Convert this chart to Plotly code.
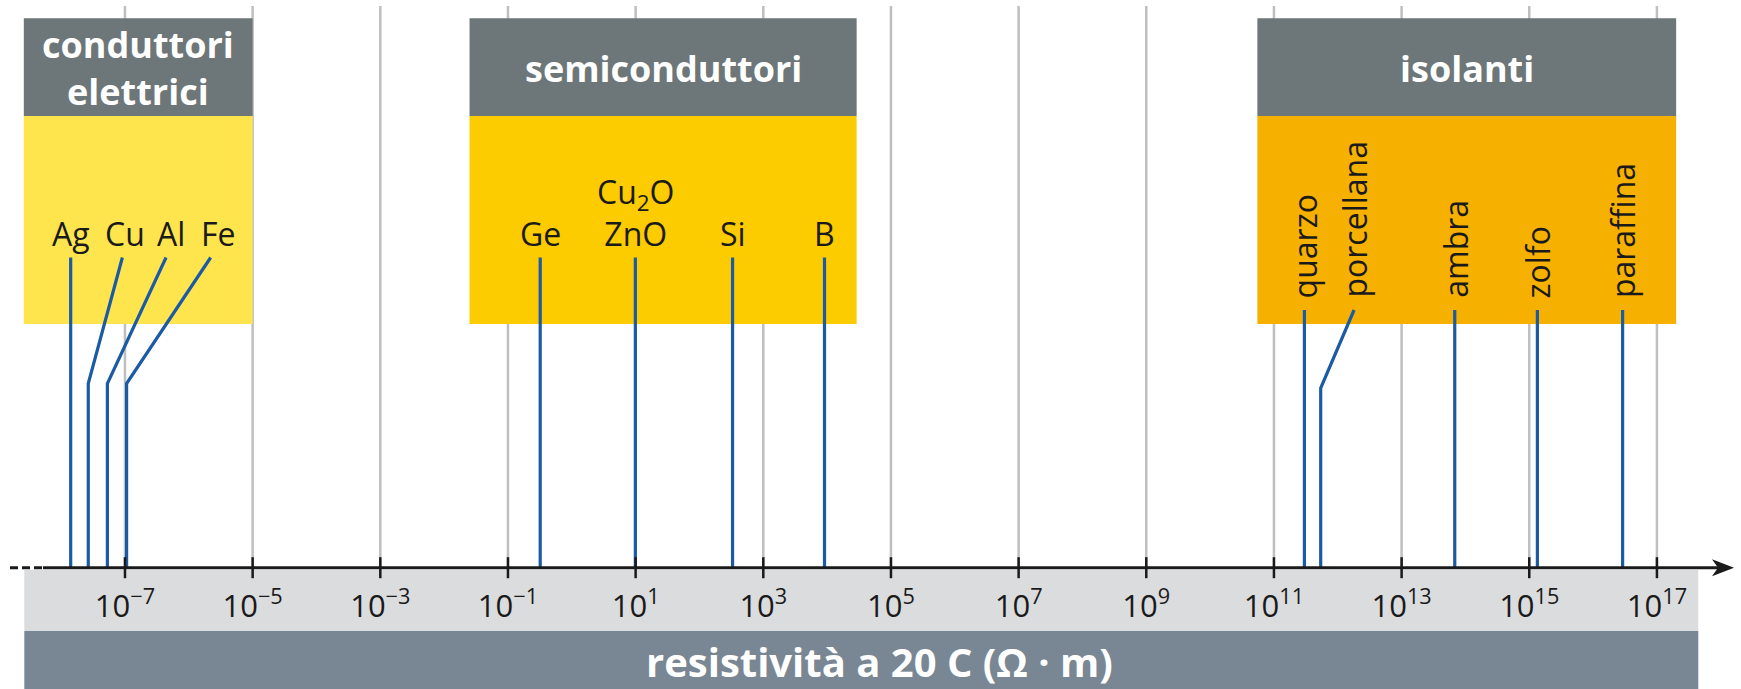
import math
import plotly.graph_objects as go

# ---------------- data ----------------
tick_exponents = [-7, -5, -3, -1, 1, 3, 5, 7, 9, 11, 13, 15, 17]
tick_values = [10.0 ** e for e in tick_exponents]
tick_text = ["10<sup>" + ("−" if e < 0 else "") + str(abs(e)) + "</sup>" for e in tick_exponents]

class_names = ["conduttori<br>elettrici", "semiconduttori", "isolanti"]
class_rho_min = [2.6e-9, 2.5e-2, 5.5e10]
class_rho_max = [1.0e-5, 2.9e4, 2.0e17]
class_colors = ["#fee54d", "#fccb00", "#f6b100"]

conductor_names = ["Ag", "Cu", "Al", "Fe"]
conductor_rho = [1.41e-8, 2.66e-8, 5.3e-8, 1.06e-7]        # value on the axis
conductor_top_rho = [1.41e-8, 9.1e-8, 4.4e-7, 2.2e-6]       # where the leader reaches the label
conductor_label_rho = [1.41e-8, 1.0e-7, 5.2e-7, 2.9e-6]     # label centre

semi_names = ["Ge", "Cu<sub>2</sub>O<br>ZnO", "Si", "B"]
semi_rho = [0.32, 9.9, 330.0, 9.1e3]

insul_names = ["quarzo", "porcellana", "ambra", "zolfo", "paraffina"]
insul_rho = [3.0e11, 5.4e11, 6.8e13, 1.34e15, 2.9e16]
insul_top_rho = [3.0e11, 1.8e12, 6.8e13, 1.34e15, 2.9e16]

axis_title = "resistività a 20 C (Ω · m)"

# ---------------- layout constants (pixel rows of the 1741x689 canvas) ----------------
W, H = 1741, 689
AXIS_Y = 567.7
GRID_TOP = 6.0
HEAD_TOP, HEAD_BOT, BODY_BOT = 18.3, 116.0, 324.0
LINE_TOP_A = 257.5      # conductors / semiconductors
LINE_TOP_B = 310.0      # insulators
KINK_A, KINK_B = 383.5, 388.0
LABEL_BOTTOM = 257.0
ROT_LABEL_BOTTOM = 300.0

HEAD_GREY = "#6d7678"
BLUE = "#1b5aa5"
INK = "#1a1a1a"
GRID = "#bfbfbf"
FONT = "Open Sans"

X_RANGE = [-8.958, 18.317]


def py(p):
    return 1 - p / H


def px(p):
    return p / W


fig = go.Figure()

# grid lines (vertical, at each labelled decade)
gx, gy = [], []
for v in tick_values:
    gx += [v, v, None]
    gy += [AXIS_Y, GRID_TOP, None]
fig.add_trace(go.Scatter(x=gx, y=gy, mode="lines", line=dict(color=GRID, width=2.5), hoverinfo="skip"))

# class boxes (header + coloured body)
for name, lo, hi, col in zip(class_names, class_rho_min, class_rho_max, class_colors):
    fig.add_trace(go.Scatter(x=[lo, hi, hi, lo, lo], y=[HEAD_TOP, HEAD_TOP, HEAD_BOT, HEAD_BOT, HEAD_TOP],
                             fill="toself", fillcolor=HEAD_GREY, mode="lines", line=dict(width=0),
                             hoverinfo="skip"))
    fig.add_trace(go.Scatter(x=[lo, hi, hi, lo, lo], y=[HEAD_BOT, HEAD_BOT, BODY_BOT, BODY_BOT, HEAD_BOT],
                             fill="toself", fillcolor=col, mode="lines", line=dict(width=0),
                             hoverinfo="skip"))
    fig.add_annotation(x=(math.log10(lo) + math.log10(hi)) / 2, y=(HEAD_TOP + HEAD_BOT) / 2 + 1,
                       xref="x", yref="y", text=name, showarrow=False,
                       font=dict(family=FONT, size=36, color="white", weight="bold"),
                       xanchor="center", yanchor="middle")

# leader lines
lx, ly = [], []
for r, t in zip(conductor_rho, conductor_top_rho):
    if r == t:
        lx += [r, t, None]
        ly += [AXIS_Y, LINE_TOP_A, None]
    else:
        lx += [r, r, t, None]
        ly += [AXIS_Y, KINK_A, LINE_TOP_A, None]
for r in semi_rho:
    lx += [r, r, None]
    ly += [AXIS_Y, LINE_TOP_A, None]
for r, t in zip(insul_rho, insul_top_rho):
    if r == t:
        lx += [r, t, None]
        ly += [AXIS_Y, LINE_TOP_B, None]
    else:
        lx += [r, r, t, None]
        ly += [AXIS_Y, KINK_B, LINE_TOP_B, None]
fig.add_trace(go.Scatter(x=lx, y=ly, mode="lines", line=dict(color=BLUE, width=3.2), hoverinfo="skip"))

# labels
LABEL_FONT = dict(family=FONT, size=32, color=INK)
for n, r in zip(conductor_names, conductor_label_rho):
    fig.add_annotation(x=math.log10(r), y=LABEL_BOTTOM, xref="x", yref="y", text=n, showarrow=False,
                       font=LABEL_FONT, xanchor="center", yanchor="bottom")
for n, r in zip(semi_names, semi_rho):
    fig.add_annotation(x=math.log10(r), y=LABEL_BOTTOM, xref="x", yref="y", text=n, showarrow=False,
                       font=LABEL_FONT, xanchor="center", yanchor="bottom")
for n, r in zip(insul_names, insul_top_rho):
    fig.add_annotation(x=math.log10(r), y=ROT_LABEL_BOTTOM, xref="x", yref="y", text=n, showarrow=False,
                       textangle=-90, font=LABEL_FONT, xanchor="center", yanchor="bottom")

# bands under the axis
fig.add_shape(type="rect", xref="paper", yref="paper", x0=px(24.3), x1=px(1698.3), y0=py(631), y1=py(570),
              fillcolor="#dbdcde", line=dict(width=0), layer="below")
fig.add_shape(type="rect", xref="paper", yref="paper", x0=px(24.3), x1=px(1698.3), y0=0, y1=py(631),
              fillcolor="#798693", line=dict(width=0), layer="below")
fig.add_annotation(xref="paper", yref="paper", x=px(880), y=py(661), text=axis_title, showarrow=False,
                   font=dict(family=FONT, size=40, color="white", weight="bold"),
                   xanchor="center", yanchor="middle")

# axis line, dashed start, arrow head
fig.add_shape(type="line", xref="paper", yref="paper", x0=px(43), x1=px(1718), y0=py(AXIS_Y), y1=py(AXIS_Y),
              line=dict(color=INK, width=3), layer="above")
fig.add_shape(type="line", xref="paper", yref="paper", x0=px(10), x1=px(43), y0=py(AXIS_Y), y1=py(AXIS_Y),
              line=dict(color=INK, width=3, dash="8px,4px"), layer="above")
tip, back, notch, half = 1734, 1712, 1718, 8.5
fig.add_shape(type="path", xref="paper", yref="paper",
              path=(f"M{px(tip)},{py(AXIS_Y)} L{px(back)},{py(AXIS_Y - half)} "
                    f"L{px(notch)},{py(AXIS_Y)} L{px(back)},{py(AXIS_Y + half)} Z"),
              fillcolor=INK, line=dict(width=0), layer="above")

# tick marks crossing the axis
fig.add_trace(go.Scatter(x=tick_values, y=[AXIS_Y] * len(tick_values), mode="markers",
                         marker=dict(symbol="line-ns", size=15, line=dict(color=INK, width=2.5)),
                         hoverinfo="skip"))

fig.update_layout(
    width=W, height=H, margin=dict(l=0, r=0, t=0, b=0),
    paper_bgcolor="white", plot_bgcolor="rgba(0,0,0,0)", showlegend=False, hovermode=False,
    xaxis=dict(type="log", range=X_RANGE, domain=[0, 1], anchor="free", position=py(AXIS_Y),
               tickvals=tick_values, ticktext=tick_text, ticks="", showline=False, zeroline=False,
               showgrid=False, tickfont=dict(family=FONT, size=31, color=INK), ticklabelstandoff=17),
    yaxis=dict(range=[H, GRID_TOP], domain=[0, (H - GRID_TOP) / H], visible=False,
               showgrid=False, zeroline=False),
)

fig.write_html("out.html", config={"displayModeBar": False},
               post_script="document.body.style.margin='0px';document.body.style.overflow='hidden';")
